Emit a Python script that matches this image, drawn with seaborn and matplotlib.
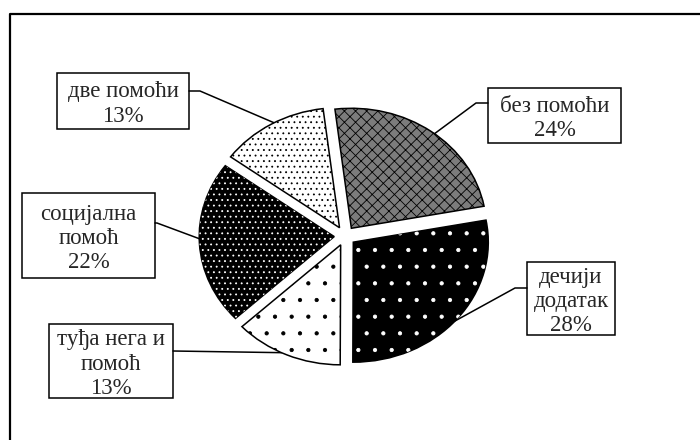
import numpy as np
import matplotlib.pyplot as plt
import seaborn as sns
from matplotlib.patches import Rectangle

# Data
labels = ['без помоћи', 'дечији\nдодатак', 'туђа нега и\nпомоћ', 'социјална\nпомоћ', 'две помоћи']
shares = [24, 28, 13, 22, 13]

# Styles (black and white patterns)
faces = ['#7c7c7c', 'black', 'white', 'black', 'white']
hatch_cols = ['black', 'white', 'black', 'white', 'black']
hatches = ['xxx', '.', '.', '...', '...']

sns.set_theme(style='white')
plt.rcParams['font.family'] = ['Liberation Serif', 'DejaVu Serif']
plt.rcParams['hatch.linewidth'] = 0.6

fig = plt.figure(figsize=(7, 4.4), dpi=100)
bg = fig.add_axes([0, 0, 1, 1])
bg.set_xlim(0, 700)
bg.set_ylim(440, 0)
bg.axis('off')

# frame (only left and top edges are visible in the picture)
bg.plot([10, 10, 700], [440, 14, 14], color='black', lw=1.6, solid_capstyle='butt')

ax = fig.add_axes([0.2807, 0.1636, 0.4243, 0.6])
explode = [0.08] * len(shares)
wedges, _ = ax.pie(shares, startangle=97, counterclock=False, colors=faces,
                   explode=explode,
                   wedgeprops=dict(edgecolor='black', linewidth=1.1))
hw, _ = ax.pie(shares, startangle=97, counterclock=False, explode=explode,
               hatch=hatches, wedgeprops=dict(facecolor='none', linewidth=0))
for w, c in zip(hw, hatch_cols):
    w.set_edgecolor(c)
    w.set_linewidth(0)
ax.set_aspect('auto')
ax.set_xlim(-1.1, 1.1)
ax.set_ylim(-1.1, 1.1)
ax.axis('off')

# label boxes in pixel layout: x0, y0, x1, y1
boxes = [(488, 88, 621, 143), (527, 262, 615, 335), (49, 324, 173, 398),
         (22, 193, 155, 278), (57, 73, 189, 129)]
anchor_ang = [52, -41, -116, 181, 119]
elbows = [(476, 103), (515, 288), None, (157, 223), (200, 91)]
starts = [(488, 103), (527, 288), (173, 351), (155, 223), (189, 91)]

inv = bg.transData.inverted()
for i, (lab, v) in enumerate(zip(labels, shares)):
    x0, y0, x1, y1 = boxes[i]
    bg.add_patch(Rectangle((x0, y0), x1 - x0, y1 - y0, fill=False,
                           edgecolor='black', lw=1.1))
    bg.text((x0 + x1) / 2, (y0 + y1) / 2 + 3, f'{lab}\n{v}%', ha='center',
            va='center', fontsize=16.5, linespacing=1.2)
    cx, cy = wedges[i].center
    a = np.deg2rad(anchor_ang[i])
    px, py = inv.transform(ax.transData.transform((cx + np.cos(a), cy + np.sin(a))))
    pts = [starts[i]] + ([elbows[i]] if elbows[i] else []) + [(px, py)]
    xs, ys = zip(*pts)
    bg.plot(xs, ys, color='black', lw=1.1)

fig.savefig('out.png', dpi=100)
